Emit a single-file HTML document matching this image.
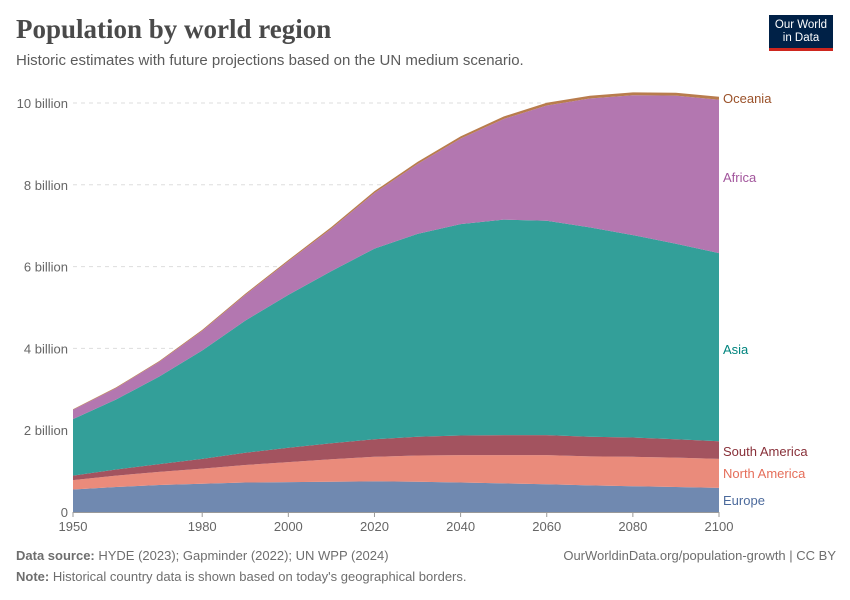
<!DOCTYPE html>
<html><head><meta charset="utf-8">
<style>
body{margin:0;background:#fff;font-family:"Liberation Sans",sans-serif;}
#wrap{position:relative;width:850px;height:600px;overflow:hidden;}
.t{position:absolute;white-space:nowrap;}
</style></head>
<body>
<div id="wrap">
<div class="t" style="left:16px;top:14px;font-family:'Liberation Serif',serif;font-size:27px;font-weight:bold;color:#4a4a4a;">Population by world region</div>
<div class="t" style="left:16px;top:52px;font-size:15px;color:#5b5b5b;">Historic estimates with future projections based on the UN medium scenario.</div>
<div style="position:absolute;left:769px;top:15px;width:64px;height:36px;background:#002147;border-bottom:3px solid #ce261e;color:#fff;font-size:11.5px;line-height:13px;text-align:center;padding-top:4px;box-sizing:border-box;">Our World<br>in Data</div>
<svg id="chart" width="850" height="600" style="position:absolute;left:0;top:0"></svg>
<div class="t" style="left:16px;top:548px;font-size:13px;color:#6e6e6e;"><b>Data source:</b> HYDE (2023); Gapminder (2022); UN WPP (2024)</div>
<div class="t" style="right:14px;top:548px;font-size:13px;color:#6e6e6e;">OurWorldinData.org/population-growth | CC BY</div>
<div class="t" style="left:16px;top:569px;font-size:13px;color:#6e6e6e;"><b>Note:</b> Historical country data is shown based on today's geographical borders.</div>
</div>
<script>
const years=[1950,1960,1970,1980,1990,2000,2010,2020,2030,2040,2050,2060,2070,2080,2090,2100];
const europe=[.55,.61,.66,.69,.72,.73,.74,.75,.74,.72,.70,.68,.65,.63,.61,.59];
const northAmerica=[.23,.28,.32,.37,.43,.49,.55,.6,.64,.67,.69,.71,.71,.72,.72,.71];
const southAmerica=[.11,.15,.19,.24,.30,.35,.39,.43,.46,.48,.49,.49,.48,.47,.45,.43];
const asia=[1.38,1.71,2.14,2.65,3.23,3.74,4.21,4.66,4.96,5.17,5.27,5.24,5.12,4.95,4.78,4.6];
const africa=[.23,.28,.36,.48,.63,.82,1.04,1.36,1.71,2.09,2.46,2.82,3.15,3.42,3.62,3.75];
const oceania=[.013,.016,.02,.023,.027,.031,.037,.045,.05,.055,.06,.065,.068,.07,.072,.074];
const yTicks=[0,2,4,6,8,10];
const yTickLabels=["0","2 billion","4 billion","6 billion","8 billion","10 billion"];
const xTicks=[1950,1980,2000,2020,2040,2060,2080,2100];
const seriesNames=["Europe","North America","South America","Asia","Africa","Oceania"];
const seriesData=[europe,northAmerica,southAmerica,asia,africa,oceania];
const fills=["#7089b0","#ea8b7b","#a3535f","#339f99","#b377b0","#b87c4d"];
const labelColors=["#4c6a9c","#e56e5a","#883039","#00847e","#a2559c","#9a5129"];
const svg=document.getElementById('chart');const NS="http://www.w3.org/2000/svg";
const x=y=>73+(y-1950)*(719-73)/150;
const yS=v=>512-v*40.9;
function mk(t,a){const e=document.createElementNS(NS,t);for(const k in a)e.setAttribute(k,a[k]);svg.appendChild(e);return e;}
yTicks.forEach((v,i)=>{
 if(v>0){const l=mk('line',{x1:73,x2:719,y1:yS(v),y2:yS(v),stroke:'#ddd','stroke-dasharray':'4,4'});
 }
 const t=mk('text',{x:68,y:yS(v)+5,'text-anchor':'end','font-size':13,fill:'#666','font-family':'Liberation Sans'});
 t.textContent=yTickLabels[i];
 
});
let base=years.map(()=>0);
seriesData.forEach((s,si)=>{
 const top=base.map((b,i)=>b+s[i]);
 let d='M'+years.map((yr,i)=>x(yr)+','+yS(top[i])).join('L');
 for(let i=years.length-1;i>=0;i--)d+='L'+x(years[i])+','+yS(base[i]);
 d+='Z';
 const p=mk('path',{d:d,fill:fills[si]});
 
 
 base=top;
});
const lp=[500,473,451,349,177,98];
seriesNames.forEach((n,i)=>{
 const t=mk('text',{x:723,y:lp[i]+5,'font-size':13,fill:labelColors[i],'font-family':'Liberation Sans'});
 t.textContent=n;
 
});
const ax=mk('line',{x1:73,x2:719,y1:512.5,y2:512.5,stroke:'#999'});

xTicks.forEach(v=>{
 const tk=mk('line',{x1:x(v),x2:x(v),y1:512,y2:517,stroke:'#999'});
 
 const t=mk('text',{x:x(v),y:531,'text-anchor':'middle','font-size':13,fill:'#666','font-family':'Liberation Sans'});
 t.textContent=v;
 
});
</script>
</body></html>
